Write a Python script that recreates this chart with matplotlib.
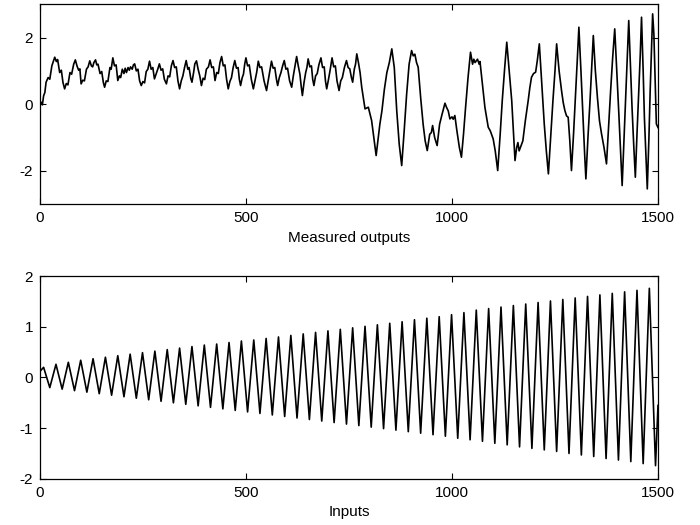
import matplotlib
matplotlib.use("Agg")
import matplotlib.pyplot as plt

plt.rcParams['font.family'] = ['Liberation Sans Narrow', 'Liberation Sans', 'DejaVu Sans']
plt.rcParams['axes.unicode_minus'] = False

amostras_saida = [
    0, 3, 6, 9, 12, 15, 20, 24, 29, 33, 36, 40, 43, 48, 52, 56, 60, 64, 68, 73, 77, 82,
    86, 90, 94, 97, 100, 104, 108, 113, 117, 121, 125, 128, 131, 135, 138, 141, 146,
    150, 154, 157, 161, 165, 170, 173, 177, 181, 185, 189, 193, 196, 200, 204, 207,
    210, 214, 217, 220, 224, 227, 230, 234, 238, 242, 246, 250, 254, 258, 262, 266,
    270, 274, 278, 282, 286, 290, 294, 298, 302, 307, 311, 315, 319, 323, 327, 331,
    335, 339, 343, 347, 351, 355, 359, 362, 366, 369, 373, 376, 380, 384, 388, 392,
    396, 400, 404, 409, 413, 417, 421, 425, 429, 433, 437, 441, 445, 449, 453, 457,
    461, 465, 469, 473, 477, 481, 484, 487, 491, 494, 497, 500, 504, 508, 513, 518,
    522, 526, 530, 534, 538, 544, 550, 554, 558, 562, 566, 570, 574, 577, 581, 585,
    589, 593, 597, 601, 606, 611, 615, 619, 623, 627, 631, 634, 637, 641, 645, 648,
    651, 655, 659, 662, 665, 669, 673, 677, 682, 686, 690, 693, 696, 700, 704, 709,
    713, 717, 721, 726, 730, 734, 739, 744, 748, 752, 756, 759, 763, 766, 769, 773,
    777, 781, 789, 797, 805, 816, 825, 830, 836, 842, 848, 854, 860, 866, 872, 878,
    884, 890, 896, 902, 906, 910, 914, 918, 924, 930, 935, 940, 946, 950, 953, 958,
    964, 970, 976, 983, 987, 991, 995, 1000, 1003, 1007, 1012, 1018, 1023, 1028, 1033,
    1039, 1045, 1050, 1053, 1056, 1062, 1066, 1068, 1074, 1080, 1088, 1093, 1100, 1105,
    1111, 1117, 1122, 1128, 1133, 1139, 1145, 1149, 1153, 1157, 1160, 1163, 1166, 1169,
    1172, 1178, 1185, 1189, 1193, 1198, 1203, 1207, 1212, 1218, 1224, 1229, 1234, 1240,
    1245, 1250, 1254, 1260, 1266, 1270, 1274, 1278, 1282, 1286, 1290, 1295, 1300, 1304,
    1308, 1313, 1318, 1322, 1325, 1330, 1335, 1339, 1343, 1348, 1353, 1358, 1363, 1369,
    1375, 1380, 1385, 1390, 1395, 1400, 1405, 1409, 1413, 1417, 1421, 1425, 1429, 1433,
    1437, 1441, 1445, 1449, 1453, 1457, 1460, 1464, 1467, 1471, 1474, 1478, 1481, 1484,
    1487, 1490, 1493, 1496, 1500]
valores_saida = [
    0.0, 0.06, -0.02, 0.25, 0.35, 0.66, 0.80, 0.75, 1.15, 1.30, 1.41, 1.28, 1.34, 0.95,
    1.02, 0.65, 0.46, 0.62, 0.58, 0.95, 0.90, 1.20, 1.33, 1.15, 1.02, 1.06, 0.61, 0.72,
    0.70, 1.05, 1.12, 1.30, 1.15, 1.12, 1.25, 1.33, 1.18, 1.20, 0.92, 0.98, 0.65, 0.51,
    0.70, 0.68, 1.10, 1.05, 1.39, 1.15, 1.18, 0.71, 0.85, 0.80, 1.05, 0.92, 1.08, 0.95,
    1.10, 1.02, 1.12, 1.05, 1.18, 1.21, 1.00, 1.05, 0.70, 0.56, 0.68, 0.64, 0.98, 1.05,
    1.29, 1.05, 1.10, 0.76, 0.90, 1.05, 1.21, 1.02, 1.06, 0.75, 0.61, 0.85, 0.82, 1.15,
    1.31, 1.10, 1.12, 0.70, 0.46, 0.70, 0.85, 1.10, 1.31, 1.05, 1.10, 0.78, 0.66, 0.95,
    1.21, 1.30, 1.05, 0.85, 0.56, 0.78, 0.74, 1.05, 1.12, 1.33, 1.10, 1.12, 0.71, 0.95,
    0.92, 1.25, 1.43, 1.15, 1.18, 0.75, 0.46, 0.68, 0.80, 1.10, 1.31, 1.08, 1.10, 0.75,
    0.56, 0.80, 0.90, 1.20, 1.39, 1.15, 1.18, 0.75, 0.46, 0.70, 0.95, 1.29, 1.10, 1.12,
    0.70, 0.41, 0.70, 1.00, 1.29, 1.08, 1.10, 0.75, 0.56, 0.80, 0.95, 1.15, 1.31, 1.05,
    1.08, 0.70, 0.51, 0.85, 1.15, 1.43, 1.15, 0.90, 0.55, 0.26, 0.65, 0.95, 1.10, 1.36,
    1.12, 1.15, 0.75, 0.56, 0.85, 0.92, 1.18, 1.39, 1.10, 1.12, 0.70, 0.46, 0.72, 1.00,
    1.39, 1.12, 1.15, 0.70, 0.41, 0.70, 0.80, 1.10, 1.31, 1.10, 1.06, 0.80, 0.66, 1.05,
    1.20, 1.51, 1.25, 0.95, 0.51, -0.14, -0.09, -0.49, -1.54, -0.60, -0.20, 0.45, 0.95,
    1.25, 1.66, 1.10, -0.20, -1.20, -1.84, -0.80, 0.30, 1.20, 1.61, 1.45, 1.50, 1.25,
    1.11, 0.20, -0.60, -1.10, -1.39, -0.90, -0.85, -0.64, -1.00, -1.24, -0.60, -0.30,
    0.03, -0.10, -0.20, -0.44, -0.38, -0.45, -0.34, -0.80, -1.30, -1.59, -0.90, -0.10,
    0.80, 1.56, 1.20, 1.35, 1.25, 1.35, 1.20, 1.28, 0.60, -0.10, -0.69, -0.80, -1.04,
    -1.40, -1.99, -0.90, 0.10, 1.10, 1.86, 1.00, 0.11, -0.80, -1.69, -1.30, -1.15, -1.40,
    -1.30, -1.20, -1.10, -0.50, 0.11, 0.50, 0.81, 0.92, 0.96, 1.30, 1.81, 0.60, -0.60,
    -1.40, -2.09, -0.90, 0.10, 1.00, 1.81, 1.00, 0.40, 0.05, -0.19, -0.35, -0.39, -1.10,
    -1.99, -0.90, 0.30, 1.30, 2.31, 1.00, -0.40, -1.50, -2.24, -1.00, 0.10, 1.10, 2.06,
    1.00, 0.20, -0.50, -0.89, -1.30, -1.79, -0.70, 0.40, 1.40, 2.26, 1.00, -0.30, -1.40,
    -2.44, -1.20, 0.10, 1.30, 2.51, 1.20, -0.10, -1.20, -2.19, -0.90, 0.30, 1.50, 2.61,
    1.00, -0.40, -1.60, -2.54, -1.00, 0.40, 1.60, 2.71, 2.10, 0.80, -0.59, -0.70]

# Entrada: picos e vales de cada ciclo
amostras_picos = [9, 39, 69, 99, 129, 159, 189, 219, 249, 279, 309, 339, 369, 399, 429,
                  459, 489, 519, 549, 579, 609, 639, 669, 699, 729, 759, 789, 819, 849,
                  879, 909, 939, 969, 999, 1029, 1059, 1089, 1119, 1149, 1179, 1209,
                  1239, 1269, 1299, 1329, 1359, 1389, 1419, 1449, 1479]
valores_picos = [0.20, 0.26, 0.30, 0.34, 0.37, 0.40, 0.43, 0.46, 0.49, 0.52, 0.55, 0.58,
                 0.61, 0.64, 0.66, 0.69, 0.72, 0.74, 0.77, 0.80, 0.83, 0.86, 0.89, 0.92,
                 0.95, 0.98, 1.01, 1.04, 1.07, 1.10, 1.14, 1.17, 1.20, 1.24, 1.28, 1.33,
                 1.36, 1.39, 1.42, 1.45, 1.48, 1.51, 1.54, 1.57, 1.60, 1.63, 1.66, 1.69,
                 1.72, 1.76]
amostras_vales = [24, 54, 84, 114, 144, 174, 204, 234, 264, 294, 324, 354, 384, 414, 444,
                  474, 504, 534, 564, 594, 624, 654, 684, 714, 744, 774, 804, 834, 864,
                  894, 924, 954, 984, 1014, 1044, 1074, 1104, 1134, 1164, 1194, 1224,
                  1254, 1284, 1314, 1344, 1374, 1404, 1434, 1464, 1494]
valores_vales = [-0.20, -0.23, -0.26, -0.29, -0.32, -0.35, -0.38, -0.41, -0.44, -0.47,
                 -0.50, -0.53, -0.56, -0.59, -0.62, -0.65, -0.68, -0.71, -0.74, -0.77,
                 -0.80, -0.83, -0.86, -0.89, -0.92, -0.95, -0.98, -1.01, -1.04, -1.07,
                 -1.10, -1.13, -1.16, -1.20, -1.23, -1.26, -1.30, -1.33, -1.37, -1.40,
                 -1.43, -1.46, -1.50, -1.53, -1.56, -1.60, -1.63, -1.66, -1.70, -1.74]
inicio_entrada = 0.12
fim_entrada = -0.55

# juntar picos e vales em ordem
amostras_entrada = [0]
valores_entrada = [inicio_entrada]
for i in range(len(amostras_picos)):
    amostras_entrada += [amostras_picos[i], amostras_vales[i]]
    valores_entrada += [valores_picos[i], valores_vales[i]]
amostras_entrada.append(1500)
valores_entrada.append(fim_entrada)

fig = plt.figure(figsize=(7, 5.25), dpi=100)
ax1 = fig.add_axes([0.057, 0.611, 0.883, 0.381])
ax2 = fig.add_axes([0.057, 0.088, 0.883, 0.386])

ax1.plot(amostras_saida, valores_saida, color='black', lw=1.2)
ax1.set_xlim(0, 1500)
ax1.set_ylim(-3, 3)
ax1.set_yticks([-2, 0, 2])
ax1.set_xlabel('Measured outputs', fontsize=11, labelpad=4)

ax2.plot(amostras_entrada, valores_entrada, color='black', lw=1.2)
ax2.set_xlim(0, 1500)
ax2.set_ylim(-2, 2)
ax2.set_yticks([-2, -1, 0, 1, 2])
ax2.set_xlabel('Inputs', fontsize=11, labelpad=4)

for ax in (ax1, ax2):
    ax.set_xticks([0, 500, 1000, 1500])
    ax.tick_params(direction='in', top=True, right=True, length=4, width=0.8,
                   labelsize=11, pad=5)
    for s in ax.spines.values():
        s.set_linewidth(0.9)

fig.savefig('out.png', dpi=100)
